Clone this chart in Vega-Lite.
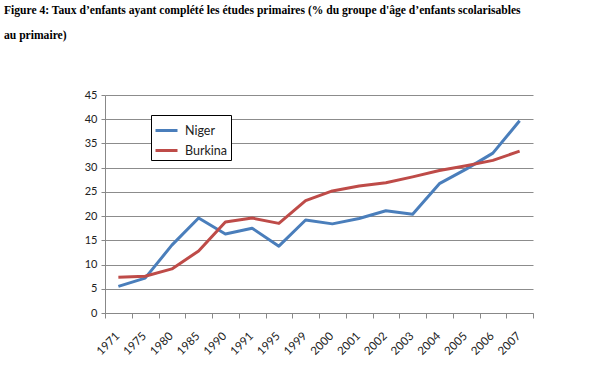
{
  "$schema": "https://vega.github.io/schema/vega-lite/v6.json",
  "autosize": "none",
  "width": 428,
  "height": 218,
  "padding": {"left": 105, "top": 95, "right": 74, "bottom": 70},
  "background": "white",
  "title": {
    "text": ["Figure 4: Taux d’enfants ayant complété les études primaires (% du groupe d'âge d’enfants scolarisables", "au primaire)"],
    "anchor": "start",
    "frame": "group",
    "orient": "top",
    "dx": -101,
    "offset": 47,
    "font": "Liberation Serif",
    "fontSize": 11.6,
    "fontWeight": "bold",
    "lineHeight": 25,
    "color": "black"
  },
  "data": {
    "values": [
      {"year": "1971", "country": "Niger", "value": 5.5},
      {"year": "1975", "country": "Niger", "value": 7.2},
      {"year": "1980", "country": "Niger", "value": 14.0},
      {"year": "1985", "country": "Niger", "value": 19.6},
      {"year": "1990", "country": "Niger", "value": 16.3},
      {"year": "1991", "country": "Niger", "value": 17.5},
      {"year": "1995", "country": "Niger", "value": 13.8},
      {"year": "1999", "country": "Niger", "value": 19.2},
      {"year": "2000", "country": "Niger", "value": 18.4},
      {"year": "2001", "country": "Niger", "value": 19.5},
      {"year": "2002", "country": "Niger", "value": 21.1},
      {"year": "2003", "country": "Niger", "value": 20.4},
      {"year": "2004", "country": "Niger", "value": 26.7},
      {"year": "2005", "country": "Niger", "value": 29.7},
      {"year": "2006", "country": "Niger", "value": 33.0},
      {"year": "2007", "country": "Niger", "value": 39.7},
      {"year": "1971", "country": "Burkina", "value": 7.4},
      {"year": "1975", "country": "Burkina", "value": 7.6},
      {"year": "1980", "country": "Burkina", "value": 9.1},
      {"year": "1985", "country": "Burkina", "value": 12.8},
      {"year": "1990", "country": "Burkina", "value": 18.8},
      {"year": "1991", "country": "Burkina", "value": 19.6},
      {"year": "1995", "country": "Burkina", "value": 18.5},
      {"year": "1999", "country": "Burkina", "value": 23.2},
      {"year": "2000", "country": "Burkina", "value": 25.2},
      {"year": "2001", "country": "Burkina", "value": 26.2},
      {"year": "2002", "country": "Burkina", "value": 26.9},
      {"year": "2003", "country": "Burkina", "value": 28.1},
      {"year": "2004", "country": "Burkina", "value": 29.4},
      {"year": "2005", "country": "Burkina", "value": 30.4},
      {"year": "2006", "country": "Burkina", "value": 31.5},
      {"year": "2007", "country": "Burkina", "value": 33.4}
    ]
  },
  "mark": {"type": "line", "strokeWidth": 3, "strokeJoin": "round"},
  "encoding": {
    "x": {
      "field": "year",
      "type": "ordinal",
      "bandPosition": 0.5,
      "scale": {"type": "band", "paddingInner": 0, "paddingOuter": 0},
      "axis": {
        "title": null,
        "tickBand": "extent",
        "labelAngle": -45,
        "labelAlign": "right",
        "labelBaseline": "top",
        "labelFont": "Lato",
        "labelFontSize": 11.5,
        "labelColor": "#222",
        "labelPadding": 12,
        "labelOffset": -5,
        "domainColor": "#888",
        "tickColor": "#888",
        "tickSize": 5,
        "grid": false
      }
    },
    "y": {
      "field": "value",
      "type": "quantitative",
      "scale": {"domain": [0, 45], "nice": false},
      "axis": {
        "title": null,
        "values": [0, 5, 10, 15, 20, 25, 30, 35, 40, 45],
        "labelFont": "Lato",
        "labelFontSize": 11,
        "labelColor": "#222",
        "labelPadding": 4,
        "domainColor": "#888",
        "tickColor": "#888",
        "tickSize": 4,
        "gridColor": "#8c8c8c",
        "gridWidth": 1
      }
    },
    "color": {
      "field": "country",
      "type": "nominal",
      "sort": ["Niger", "Burkina"],
      "scale": {"domain": ["Niger", "Burkina"], "range": ["#4a7ebb", "#be4b48"]},
      "legend": {
        "title": null,
        "orient": "none",
        "legendX": 46,
        "legendY": 20,
        "direction": "vertical",
        "strokeColor": "black",
        "fillColor": "white",
        "padding": 3,
        "rowPadding": 1,
        "symbolType": "stroke",
        "symbolSize": 484,
        "symbolStrokeWidth": 3,
        "labelOffset": 6,
        "labelFont": "Lato",
        "labelFontSize": 12.5,
        "labelColor": "#222",
        "labelLimit": 200
      }
    }
  },
  "config": {"view": {"stroke": null}}
}
